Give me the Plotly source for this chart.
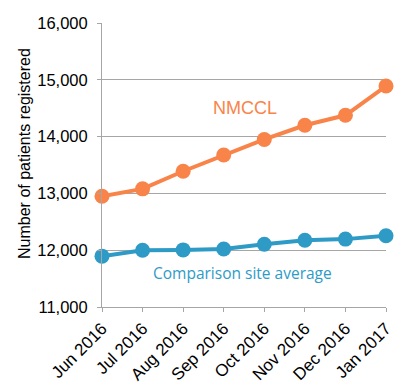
import plotly.graph_objects as go

months = ["Jun 2016", "Jul 2016", "Aug 2016", "Sep 2016", "Oct 2016", "Nov 2016", "Dec 2016", "Jan 2017"]
nmccl = [12950, 13080, 13390, 13675, 13950, 14200, 14375, 14890]
comparison = [11895, 12000, 12005, 12020, 12105, 12175, 12195, 12255]
y_ticks = [11000, 12000, 13000, 14000, 15000, 16000]

ORANGE = "#F9844A"
BLUE = "#2E9BC6"
GRID = "#A6A6A6"

fig = go.Figure()
fig.add_trace(go.Scatter(x=months, y=nmccl, mode="lines+markers", name="NMCCL",
                         line=dict(color=ORANGE, width=4),
                         marker=dict(color=ORANGE, size=15), cliponaxis=False))
fig.add_trace(go.Scatter(x=months, y=comparison, mode="lines+markers", name="Comparison site average",
                         line=dict(color=BLUE, width=4),
                         marker=dict(color=BLUE, size=15), cliponaxis=False))

fig.add_annotation(x=3.52, y=14505, text="NMCCL", showarrow=False,
                   font=dict(family="Liberation Sans, Arial", size=18, color=ORANGE))
fig.add_annotation(x=3.47, y=11594, text="Comparison site average", showarrow=False,
                   font=dict(family="Open Sans, Noto Sans", size=15.5, color=BLUE))
fig.add_annotation(xref="paper", yref="paper", x=-0.275, y=0.542, textangle=-90,
                   xanchor="center", yanchor="middle",
                   text="Number of patients registered", showarrow=False,
                   font=dict(family="Liberation Sans, Arial", size=16, color="black"))

# page body has an 8px default margin, so the figure is sized/offset to compensate
fig.update_layout(
    width=401, height=376,
    margin=dict(l=94, r=23, t=15, b=77),
    paper_bgcolor="white", plot_bgcolor="white",
    showlegend=False,
    font=dict(family="Liberation Sans, Arial", size=16, color="black"),
)
fig.update_xaxes(type="category", range=[0, 7], tickangle=-45, automargin=False,
                 showgrid=False, showline=True, linecolor=GRID, linewidth=1,
                 ticks="outside", ticklen=4, tickcolor=GRID,
                 tickfont=dict(size=17))
fig.update_yaxes(range=[11000, 16000], tickvals=y_ticks, tickformat=",", automargin=False,
                 showgrid=True, gridcolor=GRID, gridwidth=1,
                 showline=True, linecolor=GRID, linewidth=1,
                 ticks="outside", ticklen=4, tickcolor=GRID,
                 tickfont=dict(size=16.5), ticklabelstandoff=6,
                 zeroline=False)

fig.write_html("out.html")
